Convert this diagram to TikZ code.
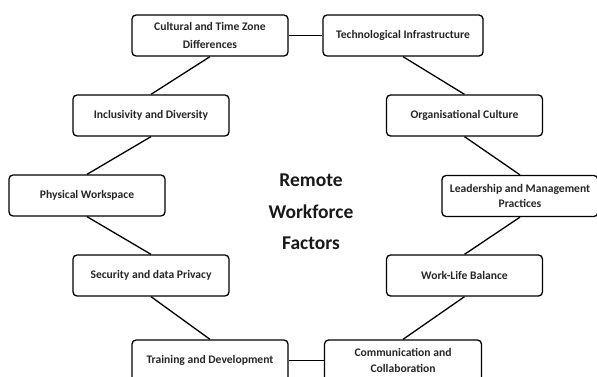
\documentclass[tikz,border=0pt]{standalone}
\usepackage{fontspec}
\setmainfont{Carlito}
\usepackage{tikz}
\usetikzlibrary{positioning,shapes}
\tikzstyle{factor}=[draw, rounded corners=4pt, line width=1.3pt, minimum width=156pt, minimum height=41pt, inner sep=2pt, align=center, font=\bfseries\fontsize{11.6}{15.5}\selectfont, text=black!85]
\tikzstyle{link}=[-, line width=1.3pt]

\begin{document}
\begin{tikzpicture}[x=1pt, y=-1pt]
        \useasboundingbox (0,0) rectangle (597,377);

        \node[factor] (cult) at (210,35.5) {Cultural and Time Zone\\[2pt]Differences};
        \node[factor, minimum width=160pt] (tech) at (403,35.5) {Technological Infrastructure};
        \node[factor] (incl) at (151,115.5) {Inclusivity and Diversity};
        \node[factor] (org) at (464.5,115.5) {Organisational Culture};
        \node[factor] (phys) at (87,195.5) {Physical Workspace};
        \node[factor] (lead) at (520,196) {Leadership and Management\\Practices};
        \node[factor] (sec) at (151,275.5) {Security and data Privacy};
        \node[factor] (wlb) at (464.5,275.5) {Work-Life Balance};
        \node[factor] (train) at (210,360.5) {Training and Development};
        \node[factor, minimum width=157pt] (comm) at (403,360.5) {Communication and\\Collaboration};

        \node[font=\bfseries\fontsize{19.5}{31.5}\selectfont, align=center, text=black!90] (title) at (311,212) {Remote\\Workforce\\Factors};

        \draw[link] (cult) -- (tech);
        \draw[link] (tech.south) -- (org.north);
        \draw[link] (org.south) -- (lead.north);
        \draw[link] (lead.south) -- (wlb.north);
        \draw[link] (wlb.south) -- (comm.north);
        \draw[link] (comm) -- (train);
        \draw[link] (train.north) -- (sec.south);
        \draw[link] (sec.north) -- (phys.south);
        \draw[link] (phys.north) -- (incl.south);
        \draw[link] (incl.north) -- (cult.south);
    \end{tikzpicture}
\end{document}
